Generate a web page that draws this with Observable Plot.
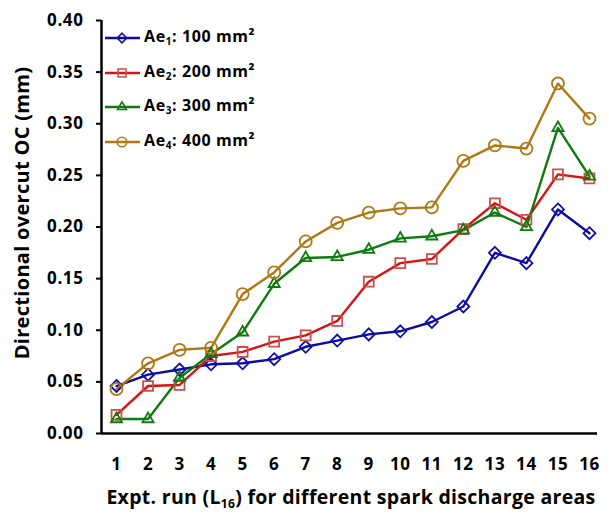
<!DOCTYPE html>
<html>
<head>
<meta charset="utf-8">
<script src="https://cdn.jsdelivr.net/npm/d3@7"></script>
<script src="https://cdn.jsdelivr.net/npm/@observablehq/plot@0.6"></script>
<style>
  body { margin: 0; background: #fff; }
  #chart svg { display: block; }
</style>
</head>
<body>
<div id="chart"></div>
<script>
// ---- data ----
const runs = [1, 2, 3, 4, 5, 6, 7, 8, 9, 10, 11, 12, 13, 14, 15, 16];
const seriesNames = ["Ae1", "Ae2", "Ae3", "Ae4"];
const seriesAreas = ["100", "200", "300", "400"];
const ae1 = [0.046, 0.057, 0.062, 0.067, 0.068, 0.072, 0.084, 0.090, 0.096, 0.099, 0.108, 0.123, 0.175, 0.165, 0.217, 0.194];
const ae2 = [0.018, 0.046, 0.047, 0.075, 0.079, 0.089, 0.095, 0.109, 0.147, 0.165, 0.169, 0.198, 0.223, 0.207, 0.251, 0.247];
const ae3 = [0.014, 0.014, 0.054, 0.077, 0.098, 0.145, 0.170, 0.171, 0.178, 0.189, 0.191, 0.197, 0.214, 0.200, 0.296, 0.249];
const ae4 = [0.043, 0.068, 0.081, 0.083, 0.135, 0.156, 0.186, 0.204, 0.214, 0.218, 0.219, 0.264, 0.279, 0.276, 0.339, 0.305];
const yTicks = [0, 0.05, 0.10, 0.15, 0.20, 0.25, 0.30, 0.35, 0.40];

// ---- styles ----
const lineColors = ["#0c0c9c", "#d61414", "#0f7a0f", "#b07812"];
const markColors = ["#1010a8", "#c8504d", "#0f7a0f", "#b07812"];
const symbols = ["diamond2", "square2", "triangle2", "circle"];
const radii = [5.4, 6.3, 5.3, 6];
const d3symbols = [d3.symbolDiamond2, d3.symbolSquare2, d3.symbolTriangle2, d3.symbolCircle];
const font = "'Open Sans', 'DejaVu Sans', sans-serif";

const allSeries = [ae1, ae2, ae3, ae4];
const data = allSeries.flatMap((vals, i) =>
  vals.map((v, j) => ({ run: runs[j], value: v, series: seriesNames[i] }))
);

const xDomain = [0.5243, 16.254];

const marks = [
  Plot.axisY({ ticks: yTicks, tickFormat: d3.format(".2f"), tickSize: 5, tickPadding: 13, strokeWidth: 2, label: null, fontSize: 17 }),
  Plot.axisX({ ticks: runs, tickSize: 0, tickPadding: 24, label: null, fontSize: 17, tickFormat: d => String(d) }),
  Plot.ruleY([0], { stroke: "#000", strokeWidth: 2.5 }),
  Plot.ruleX([xDomain[0]], { y1: 0, y2: 0.40, stroke: "#000", strokeWidth: 2.5 })
];
seriesNames.forEach((s, i) => {
  const d = data.filter(r => r.series === s);
  marks.push(Plot.line(d, { x: "run", y: "value", stroke: lineColors[i], strokeWidth: 2.4 }));
});
seriesNames.forEach((s, i) => {
  const d = data.filter(r => r.series === s);
  marks.push(Plot.dot(d, { x: "run", y: "value", symbol: () => symbols[i], r: radii[i], stroke: markColors[i], fill: "none", strokeWidth: 1.8 }));
});

const plot = Plot.plot({
  width: 609,
  height: 520,
  marginLeft: 101,
  marginRight: 12,
  marginTop: 20,
  marginBottom: 87,
  style: { fontFamily: font, fontWeight: "bold", fontSize: "17px", color: "#000", background: "#fff", letterSpacing: "0.6px" },
  x: { domain: xDomain, axis: null },
  y: { domain: [0, 0.40], axis: null },
  symbol: { domain: symbols, range: symbols },
  marks
});

document.getElementById("chart").appendChild(plot);

// ---- titles and legend (real SVG text) ----
const svg = d3.select(plot);

svg.append("text")
  .attr("transform", "translate(24,213) rotate(-90)")
  .attr("text-anchor", "middle")
  .attr("dominant-baseline", "middle")
  .attr("font-family", font).attr("font-weight", "bold").attr("font-size", 20)
  .attr("letter-spacing", "0.3px")
  .attr("fill", "#000")
  .text("Directional overcut OC (mm)");

const xt = svg.append("text")
  .attr("x", 351).attr("y", 504)
  .attr("text-anchor", "middle")
  .attr("font-family", font).attr("font-weight", "bold").attr("font-size", 19.5)
  .attr("letter-spacing", "0.3px")
  .attr("fill", "#000");
xt.append("tspan").text("Expt. run (L");
xt.append("tspan").attr("font-size", 12).attr("dy", 4).text("16");
xt.append("tspan").attr("dy", -4).text(") for different spark discharge areas");

const legendY = [38, 73, 107, 142];
seriesNames.forEach((s, i) => {
  const g = svg.append("g").attr("transform", `translate(0,${legendY[i]})`);
  g.append("line").attr("x1", 105).attr("x2", 140).attr("y1", 0).attr("y2", 0)
    .attr("stroke", lineColors[i]).attr("stroke-width", 2.4);
  g.append("path").attr("transform", "translate(122,0)")
    .attr("d", d3.symbol(d3symbols[i], Math.PI * Math.pow(radii[i] * 0.8, 2))())
    .attr("fill", "none").attr("stroke", markColors[i]).attr("stroke-width", 1.6);
  const t = g.append("text").attr("x", 144).attr("y", 0)
    .attr("text-anchor", "start")
    .attr("dominant-baseline", "middle")
    .attr("font-family", font).attr("font-weight", "bold").attr("font-size", 16)
    .attr("fill", "#000");
  t.append("tspan").text("Ae");
  t.append("tspan").attr("font-size", 10).attr("dy", 4).text(String(i + 1));
  t.append("tspan").attr("dy", -4).text(": " + seriesAreas[i] + " mm\u00B2");
});
</script>
</body>
</html>
